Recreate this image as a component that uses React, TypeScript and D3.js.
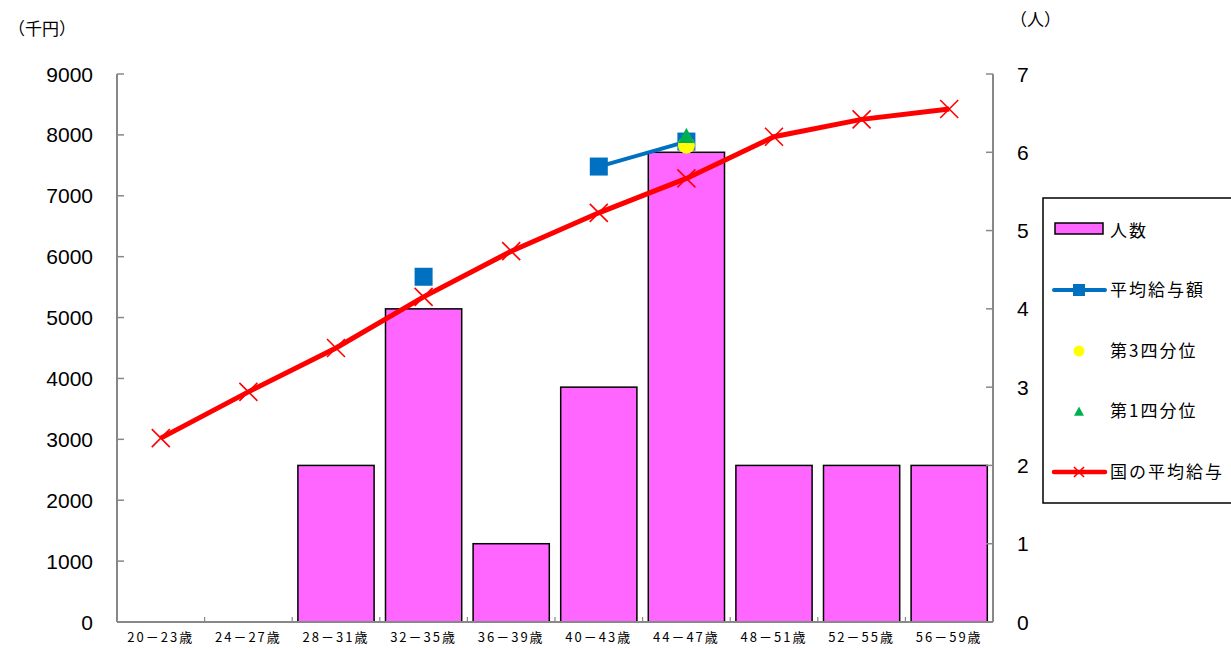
import React from "react";
import * as d3 from "d3";

const categories = ["20－23歳","24－27歳","28－31歳","32－35歳","36－39歳","40－43歳","44－47歳","48－51歳","52－55歳","56－59歳"];
const headcount: (number | null)[] = [0, 0, 2, 4, 1, 3, 6, 2, 2, 2];
const avgSalary: (number | null)[] = [null, null, null, 5670, null, 7480, 7890, null, null, null];
const q3: (number | null)[] = [null, null, null, null, null, null, 7830, null, null, null];
const q1: (number | null)[] = [null, null, null, null, null, null, 7970, null, null, null];
const national: number[] = [3020, 3780, 4500, 5340, 6090, 6720, 7285, 7970, 8255, 8425];
const leftTicks = [0, 1000, 2000, 3000, 4000, 5000, 6000, 7000, 8000, 9000];
const rightTicks = [0, 1, 2, 3, 4, 5, 6, 7];
const legendLabels = ["人数", "平均給与額", "第3四分位", "第1四分位", "国の平均給与"];

const W = 1231, H = 648;
const L = 117, R = 993, T = 74, B = 622;
const FONT = "'Liberation Sans', Arial, sans-serif";
const JFONT = "'Noto Sans CJK JP', sans-serif";

export default function App() {
  const x = d3.scaleBand<string>().domain(categories).range([L, R]).paddingInner(0.13).paddingOuter(0.065);
  const xc = (i: number) => (x(categories[i]) as number) + x.bandwidth() / 2;
  const yL = d3.scaleLinear().domain([0, 9000]).range([B, T]);
  const yR = d3.scaleLinear().domain([0, 7]).range([B, T]);
  const step = (R - L) / categories.length;

  const lineGen = d3.line<[number, number | null]>()
    .defined(d => d[1] != null)
    .x(d => xc(d[0]))
    .y(d => yL(d[1] as number));

  const avgPath = lineGen(avgSalary.map((v, i) => [i, v] as [number, number | null])) || "";
  const natPath = lineGen(national.map((v, i) => [i, v] as [number, number | null])) || "";

  const cross = (cx: number, cy: number, s: number, key: string) => (
    <path key={key} d={`M${cx - s},${cy - s}L${cx + s},${cy + s}M${cx - s},${cy + s}L${cx + s},${cy - s}`} stroke="#FF0000" strokeWidth={1.6} fill="none" />
  );
  const tri = (cx: number, cy: number, s: number) => `M${cx},${cy - s}L${cx + s * 0.9},${cy + s * 0.7}L${cx - s * 0.9},${cy + s * 0.7}Z`;

  const legY = [231, 290, 351, 411, 472];

  return (
    <svg width={W} height={H} style={{ position: "absolute", left: 0, top: 0 }}>
      <rect x={0} y={0} width={W} height={H} fill="#fff" />
      {headcount.map((v, i) => v ? (
        <rect key={"b" + i} x={x(categories[i])} y={yR(v)} width={x.bandwidth()} height={B - yR(v)} fill="#FF66FF" stroke="#000" strokeWidth={1.5} />
      ) : null)}
      <line x1={L} y1={T} x2={L} y2={B} stroke="#888" strokeWidth={2} />
      <line x1={R} y1={T} x2={R} y2={B} stroke="#888" strokeWidth={2} />
      <line x1={L} y1={B} x2={R} y2={B} stroke="#888" strokeWidth={2} />
      {leftTicks.map(t => (
        <g key={"lt" + t}>
          <line x1={L} x2={L + 7} y1={yL(t)} y2={yL(t)} stroke="#888" strokeWidth={1.5} />
          <text x={93} y={yL(t)} dy="0.36em" textAnchor="end" fontFamily={FONT} fontSize={21} fill="#000">{t}</text>
        </g>
      ))}
      {rightTicks.map(t => (
        <g key={"rt" + t}>
          <line x1={R - 7} x2={R} y1={yR(t)} y2={yR(t)} stroke="#888" strokeWidth={1.5} />
          <text x={1017} y={yR(t)} dy="0.36em" textAnchor="start" fontFamily={FONT} fontSize={21} fill="#000">{t}</text>
        </g>
      ))}
      {categories.map((c, i) => (
        <g key={"c" + i}>
          {i > 0 && <line x1={L + step * i} x2={L + step * i} y1={B} y2={B - 5} stroke="#888" strokeWidth={1.2} />}
          <text x={xc(i)} y={637} dy="0.36em" textAnchor="middle" fontFamily={JFONT} fontSize={13} letterSpacing={2} fill="#000">{c}</text>
        </g>
      ))}
      <text x={8} y={29} dy="0.36em" fontFamily={JFONT} fontSize={17} fill="#000">（千円）</text>
      <text x={1010} y={20} dy="0.36em" fontFamily={JFONT} fontSize={17} fill="#000">（人）</text>
      <path d={natPath} fill="none" stroke="#FF0000" strokeWidth={5} />
      {national.map((v, i) => cross(xc(i), yL(v), 9, "n" + i))}
      <path d={avgPath} fill="none" stroke="#0070C0" strokeWidth={4} />
      {avgSalary.map((v, i) => v != null ? (
        <rect key={"a" + i} x={xc(i) - 9} y={yL(v) - 9} width={18} height={18} fill="#0070C0" />
      ) : null)}
      {q3.map((v, i) => v != null ? (
        <circle key={"q3" + i} cx={xc(i)} cy={yL(v)} r={8.5} fill="#FFFF00" />
      ) : null)}
      {q1.map((v, i) => v != null ? (
        <path key={"q1" + i} d={tri(xc(i), yL(v), 9)} fill="#00B050" />
      ) : null)}
      <rect x={1043} y={198} width={200} height={305} fill="#fff" stroke="#000" strokeWidth={1.5} />
      <rect x={1055} y={223} width={48} height={11} fill="#FF66FF" stroke="#000" strokeWidth={1.5} />
      <line x1={1054} x2={1105} y1={legY[1]} y2={legY[1]} stroke="#0070C0" strokeWidth={4} strokeLinecap="round" />
      <rect x={1073} y={legY[1] - 6} width={12} height={12} fill="#0070C0" />
      <circle cx={1079} cy={legY[2]} r={5.5} fill="#FFFF00" />
      <path d={tri(1079, legY[3] + 1, 5.5)} fill="#00B050" />
      <line x1={1054} x2={1105} y1={legY[4]} y2={legY[4]} stroke="#FF0000" strokeWidth={4.5} strokeLinecap="round" />
      {cross(1079, legY[4], 5, "lc")}
      {legendLabels.map((l, i) => (
        <text key={"l" + i} x={1110} y={legY[i]} dy="0.36em" fontFamily={JFONT} fontSize={17} letterSpacing={2} fill="#000">{l}</text>
      ))}
    </svg>
  );
}
